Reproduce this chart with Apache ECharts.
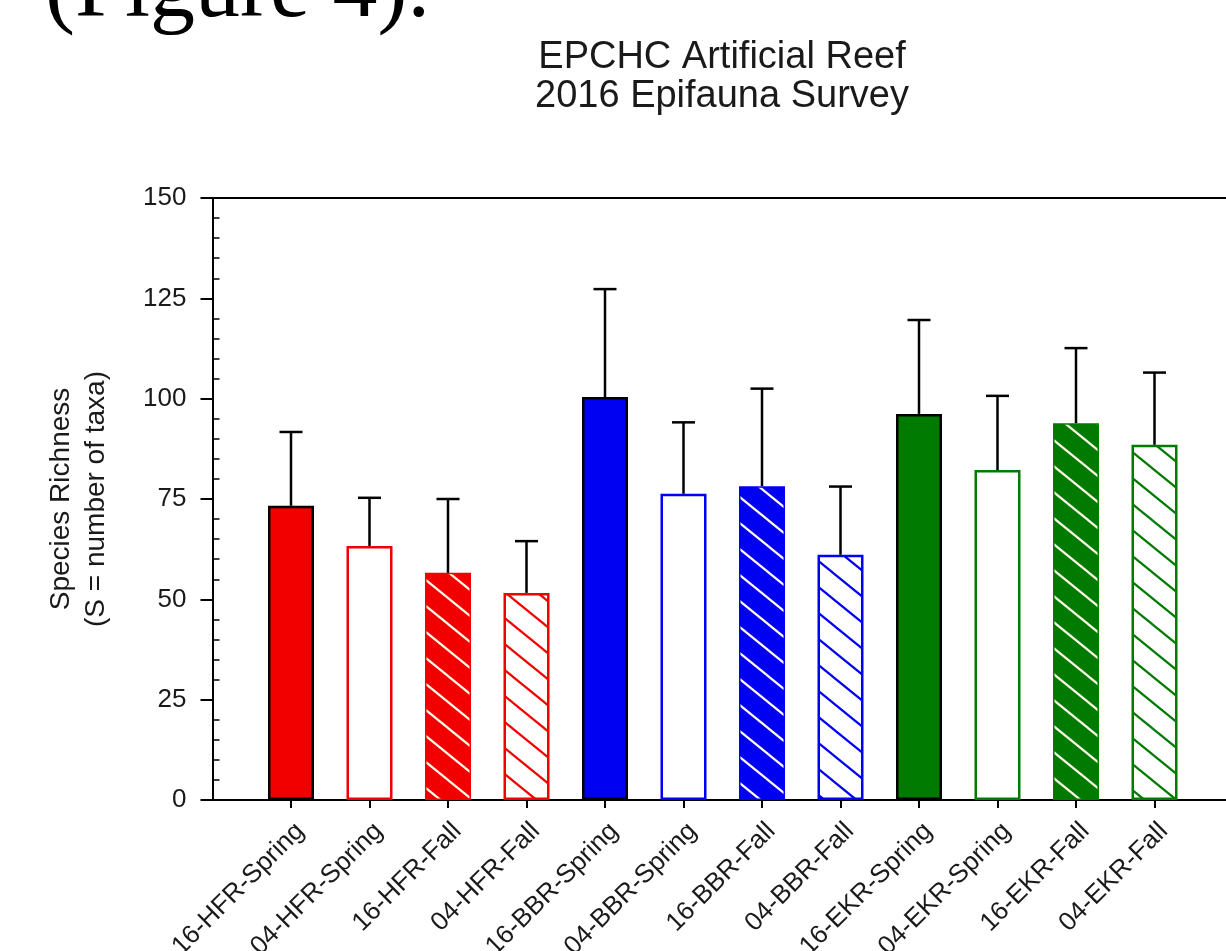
<!DOCTYPE html>
<html>
<head>
<meta charset="utf-8">
<script src="https://cdn.jsdelivr.net/npm/echarts@6/dist/echarts.min.js"></script>
<style>
html,body{margin:0;padding:0;background:#fff;}
#chart{width:1226px;height:951px;}
</style>
</head>
<body>
<div id="chart"></div>
<script>
const categories = ['16-HFR-Spring','04-HFR-Spring','16-HFR-Fall','04-HFR-Fall','16-BBR-Spring','04-BBR-Spring','16-BBR-Fall','04-BBR-Fall','16-EKR-Spring','04-EKR-Spring','16-EKR-Fall','04-EKR-Fall'];
const means = [73.3, 63.3, 56.6, 51.6, 100.4, 76.3, 78.2, 61.1, 96.2, 82.2, 93.9, 88.5];
const errors = [18.4, 12.0, 18.4, 12.9, 26.9, 17.8, 24.3, 17.0, 23.4, 18.5, 18.7, 18.0];
const yTicks = [0, 25, 50, 75, 100, 125, 150];
const siteColors = { HFR: '#f20000', BBR: '#0000f2', EKR: '#007a00' };

function hatch(bg, fg) {
  const w = 32, h = 26;
  const c = document.createElement('canvas');
  c.width = w; c.height = h;
  const g = c.getContext('2d');
  g.fillStyle = bg; g.fillRect(0, 0, w, h);
  g.strokeStyle = fg; g.lineWidth = 2.2;
  [-h, 0, h].forEach(function (dy) {
    g.beginPath(); g.moveTo(-w, -h + dy); g.lineTo(2 * w, 2 * h + dy); g.stroke();
  });
  return c;
}

function styleFor(name) {
  const parts = name.split('-');
  const col = siteColors[parts[1]];
  const isNew = parts[0] === '16';
  const isFall = parts[2] === 'Fall';
  if (!isFall && isNew) return { color: col, borderColor: '#000', borderWidth: 2.5 };
  if (!isFall && !isNew) return { color: '#fff', borderColor: col, borderWidth: 2.5 };
  if (isFall && isNew) return { color: { image: hatch(col, '#fffae8'), repeat: 'repeat' }, borderColor: col, borderWidth: 1.5 };
  return { color: { image: hatch('#fff', col), repeat: 'repeat' }, borderColor: col, borderWidth: 2.5 };
}

const idx = categories.map(function (c, i) { return i; });
const barData = categories.map(function (c, i) {
  return { value: [i, means[i]], itemStyle: styleFor(c) };
});
const errData = categories.map(function (c, i) { return [i, means[i], errors[i]]; });

const chart = echarts.init(document.getElementById('chart'), null, { renderer: 'canvas' });
const txt = '#1a1a1a';
const sans = '"Liberation Sans", Arial, sans-serif';
const option = {
  animation: false,
  backgroundColor: '#fff',
  grid: { left: 212.5, top: 198, width: 1020.5, height: 602, outerBoundsMode: 'none', containLabel: false },
  graphic: [
    { type: 'text', x: 45, y: -8,
      style: { text: '(Figure 4).', font: '90px "Liberation Serif", "Times New Roman", serif', fill: '#000', textAlign: 'left', verticalAlign: 'middle' } },
    { type: 'text', x: 722, y: 38,
      style: { text: 'EPCHC Artificial Reef\n2016 Epifauna Survey', font: '38px ' + sans, lineHeight: 39, fill: txt, textAlign: 'center', verticalAlign: 'top' } }
  ],
  xAxis: [
    {
      type: 'value', min: -1, max: 12, position: 'bottom',
      splitLine: { show: false },
      axisLine: { show: true, onZero: false, lineStyle: { color: '#000', width: 2 } },
      axisTick: { show: true, customValues: idx, length: 8, lineStyle: { color: '#000', width: 2 } },
      axisLabel: {
        customValues: idx, rotate: 45, margin: 18, verticalAlign: 'top',
        fontFamily: sans, fontSize: 26, color: txt,
        formatter: function (v) { return categories[Math.round(v)] || ''; }
      }
    },
    {
      type: 'value', min: -1, max: 12, position: 'top',
      splitLine: { show: false },
      axisLine: { show: true, onZero: false, lineStyle: { color: '#000', width: 2 } },
      axisTick: { show: false }, axisLabel: { show: false }
    }
  ],
  yAxis: [
    {
      type: 'value', min: yTicks[0], max: yTicks[yTicks.length - 1], interval: yTicks[1] - yTicks[0],
      position: 'left',
      name: 'Species Richness\n(S = number of taxa)', nameLocation: 'middle', nameGap: 99, nameRotate: 90,
      nameTextStyle: { fontFamily: sans, fontSize: 28, lineHeight: 35, color: txt },
      splitLine: { show: false },
      axisLine: { show: true, onZero: false, lineStyle: { color: '#000', width: 2 } },
      axisTick: { show: true, length: 12, lineStyle: { color: '#000', width: 2 } },
      axisLabel: { margin: 26, fontFamily: sans, fontSize: 26, color: txt }
    },
    {
      type: 'value', min: yTicks[0], max: yTicks[yTicks.length - 1], interval: yTicks[1] - yTicks[0],
      position: 'left',
      splitLine: { show: false },
      axisLine: { show: false, onZero: false },
      axisLabel: { show: false },
      axisTick: { show: false, inside: true },
      minorTick: { show: true, splitNumber: 5, length: 7, lineStyle: { color: '#000', width: 1.5 } }
    }
  ],
  series: [
    {
      type: 'bar', xAxisIndex: 0, yAxisIndex: 0, barWidth: 46,
      data: barData, z: 2
    },
    {
      type: 'custom', xAxisIndex: 0, yAxisIndex: 0, z: 3,
      data: errData,
      encode: { x: 0, y: 1 },
      renderItem: function (params, api) {
        const x = api.value(0), m = api.value(1), e = api.value(2);
        const p0 = api.coord([x, m]);
        const p1 = api.coord([x, m + e]);
        const half = 11.5;
        const st = { stroke: '#000', lineWidth: 2.5 };
        return {
          type: 'group',
          children: [
            { type: 'line', shape: { x1: p0[0], y1: p0[1], x2: p1[0], y2: p1[1] }, style: st },
            { type: 'line', shape: { x1: p1[0] - half, y1: p1[1], x2: p1[0] + half, y2: p1[1] }, style: st }
          ]
        };
      }
    }
  ]
};
chart.setOption(option);
</script>
</body>
</html>
